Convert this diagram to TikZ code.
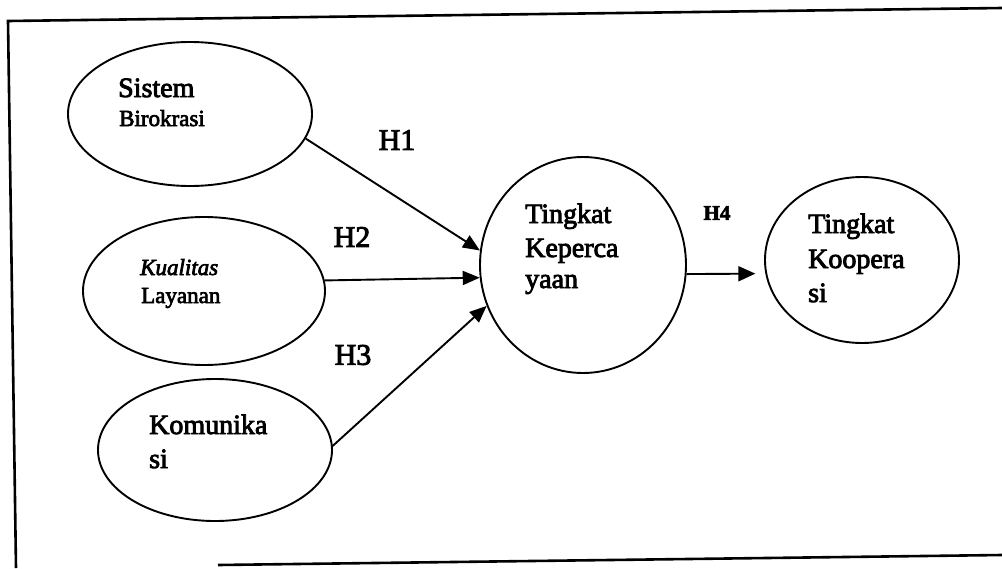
\documentclass[tikz,border=0pt]{standalone}
\usepackage{fontspec}
\setmainfont{Liberation Serif}
\newfontfamily\heavyserif[FakeBold=3]{Liberation Serif}
\usetikzlibrary{arrows.meta,shapes.geometric}
\begin{document}
\begin{tikzpicture}[x=1pt,y=-1pt,
  var/.style={draw,ellipse,line width=1.9pt,inner sep=0pt},
  big/.style={anchor=base west,inner sep=0pt,font=\heavyserif\fontsize{28}{34}\selectfont},
  small/.style={anchor=base west,inner sep=0pt,font=\heavyserif\fontsize{23}{28}\selectfont},
  hyp/.style={anchor=center,inner sep=0pt,font=\heavyserif\fontsize{30}{36}\selectfont},
  link/.style={line width=1.9pt,-{Triangle[length=17pt,width=14pt]}},
  frame/.style={line width=2.6pt}]
\useasboundingbox (0,0) rectangle (1002,568);

% outer frame (open on the right)
\coordinate (f1) at (1002,8);
\coordinate (f2) at (8,21);
\coordinate (f3) at (16,568);
\coordinate (f4) at (218,565);
\coordinate (f5) at (1002,555);
\draw[frame] (f1) -- (f2) -- (f3);
\draw[frame] (f4) -- (f5);

% latent variables
\node[var,minimum width=244pt,minimum height=144pt] (sb) at (190,114) {};
\node[var,minimum width=242pt,minimum height=148pt] (kl) at (204,291) {};
\node[var,minimum width=234pt,minimum height=142pt] (km) at (215,450) {};
\node[var,minimum width=206pt,minimum height=216pt] (tk) at (583,265) {};
\node[var,minimum width=194pt,minimum height=166pt] (ko) at (862,260) {};

% variable names
\node[big]   (sb1) at (118,97)  {Sistem};
\node[small] (sb2) at (119,126) {Birokrasi};
\node[small] (kl1) at (140,275) {\itshape Kualitas};
\node[small] (kl2) at (141,303) {Layanan};
\node[big]   (km1) at (149,434) {Komunika};
\node[big]   (km2) at (149,468) {si};
\node[big]   (tk1) at (525,223) {Tingkat};
\node[big]   (tk2) at (525,257) {Keperca};
\node[big]   (tk3) at (525,288) {yaan};
\node[big]   (ko1) at (808,233) {Tingkat};
\node[big]   (ko2) at (808,268) {Koopera};
\node[big]   (ko3) at (808,302) {si};

% hypothesised paths
\draw[link] (sb.-12) -- (tk.172);
\draw[link] (kl.5)   -- (tk.187);
\draw[link] (km.2)   -- (tk.203);
\draw[line width=1.9pt,-{Triangle[length=17pt,width=15pt]},shorten >=10pt] (tk.-5) -- (ko.188);

% path labels
\node[hyp] (h1) at (397,140) {H1};
\node[hyp] (h2) at (352,237) {H2};
\node[hyp] (h3) at (353,355) {H3};
\node[anchor=center,inner sep=0pt,font=\heavyserif\fontsize{21}{25}\selectfont\bfseries] (h4) at (717,213) {H4};
\end{tikzpicture}
\end{document}
